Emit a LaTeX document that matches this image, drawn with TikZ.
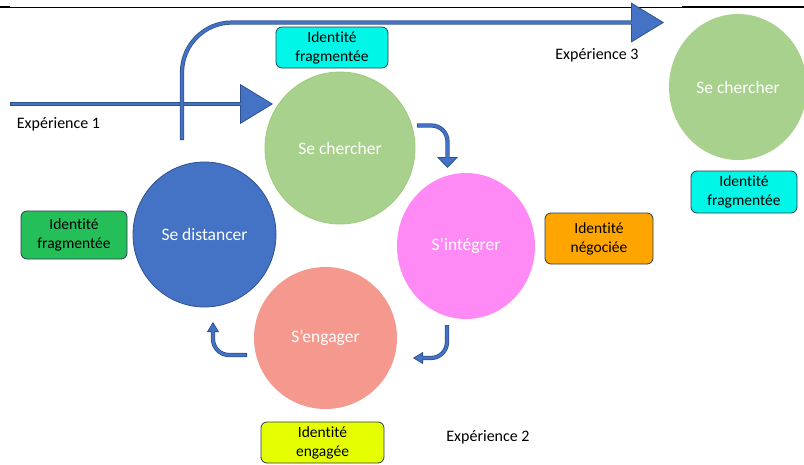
\documentclass[tikz,border=0pt]{standalone}
\usepackage{fontspec}
\setmainfont[Ligatures=NoCommon]{Carlito}
\usetikzlibrary{shapes,arrows.meta,positioning}

\definecolor{arrowblue}{HTML}{4472C4}
\definecolor{arrowedge}{HTML}{2F528F}
\definecolor{chercher}{HTML}{A9D18E}
\definecolor{chercheredge}{HTML}{9CCB78}
\definecolor{integrer}{HTML}{FF8AF6}
\definecolor{engager}{HTML}{F5998F}
\definecolor{boxedge}{HTML}{2E3A4F}
\definecolor{fragcyan}{HTML}{00F7E8}
\definecolor{negorange}{HTML}{FFA500}
\definecolor{fraggreen}{HTML}{24BF59}
\definecolor{engyellow}{HTML}{E5FF00}

\begin{document}
\begin{tikzpicture}[x=1pt, y=-1pt,
  phase/.style={ellipse, inner sep=0pt, text=white, font=\fontsize{17.5}{20}\selectfont},
  idbox/.style={draw=boxedge, line width=0.8pt, rounded corners=6pt, align=center,
    inner sep=0pt, text=black, font=\fontsize{15.5}{19}\selectfont},
  xplabel/.style={font=\fontsize{16}{19}\selectfont},
  turn/.style={draw=arrowedge, line width=4.2pt, rounded corners=16pt,
    -{Triangle[length=10pt, width=12pt, fill=arrowblue, line width=0.8pt]},
    postaction={draw=arrowblue, line width=2.6pt, -, shorten <=0.8pt, shorten >=9pt}},
  bigturn/.style={draw=arrowedge, line width=4.2pt,
    -{Triangle[length=33pt, width=40pt, fill=arrowblue, line width=0.8pt]},
    postaction={draw=arrowblue, line width=2.6pt, -, shorten <=0.8pt, shorten >=32pt}}]

\useasboundingbox (0,0) rectangle (804,464);

% Page rule
\draw[line width=0.8pt] (10,7.5) -- (682,7.5);
\draw[line width=2pt] (0,6.5) -- (10,6.5);
\draw[line width=2pt] (682,6.5) -- (804,6.5);

% Phases of the cycle
\node[phase, fill=chercher, draw=chercheredge, line width=0.8pt, minimum width=150pt, minimum height=152pt] (chercher) at (340,148) {Se chercher};
\node[phase, fill=integrer, minimum width=138pt, minimum height=146pt] (integrer) at (466,246) {S’intégrer};
\node[phase, fill=engager, minimum width=143pt, minimum height=142pt] (engager) at (325.5,338) {S’engager};
\node[phase, fill=arrowblue, draw=arrowedge, line width=0.8pt, minimum width=143pt, minimum height=145pt] (distancer) at (204.5,234.5) {Se distancer};
\node[phase, fill=chercher, minimum width=138pt, minimum height=146pt] (chercherbis) at (738,87) {Se chercher};

% Identities
\node[idbox, fill=fragcyan, minimum width=112pt, minimum height=41pt] (fragtop) at (332,47.5) {Identité\\fragmentée};
\node[idbox, fill=fragcyan, minimum width=106pt, minimum height=42pt] (fragright) at (744,192) {Identité\\fragmentée};
\node[idbox, fill=negorange, minimum width=108pt, minimum height=51pt] (nego) at (599,238.5) {Identité\\négociée};
\node[idbox, fill=fraggreen, minimum width=106pt, minimum height=48pt] (fragleft) at (74,235) {Identité\\fragmentée};
\node[idbox, fill=engyellow, minimum width=123pt, minimum height=41pt] (engbox) at (322.5,442.5) {Identité\\engagée};

% Experiences
\node[xplabel] (xp1) at (58.5,124) {Expérience 1};
\node[xplabel] (xp3) at (597,55) {Expérience 3};
\node[xplabel] (xp2) at (488,437) {Expérience 2};

% Big arrows
\coordinate (xp1start) at (10,104);
\coordinate (xp1end) at (273,104);
\draw[bigturn] (xp1start) -- (xp1end);

\coordinate (xp3start) at (182,140);
\coordinate (xp3end) at (664,22.5);
\draw[bigturn, rounded corners=50pt] (xp3start) |- (xp3end);

% Small bent arrows between phases
\coordinate (t1start) at (417,125.5);
\coordinate (t1end) at (447.5,168);
\draw[turn, -{Triangle[length=11pt, width=21pt, fill=arrowblue, line width=0.8pt]}] (t1start) -| (t1end);

\coordinate (t2start) at (447,325);
\coordinate (t2end) at (413,358);
\draw[turn] (t2start) |- (t2end);

\coordinate (t3start) at (247,355);
\coordinate (t3end) at (213,322);
\draw[turn] (t3start) -| (t3end);

\end{tikzpicture}
\end{document}
